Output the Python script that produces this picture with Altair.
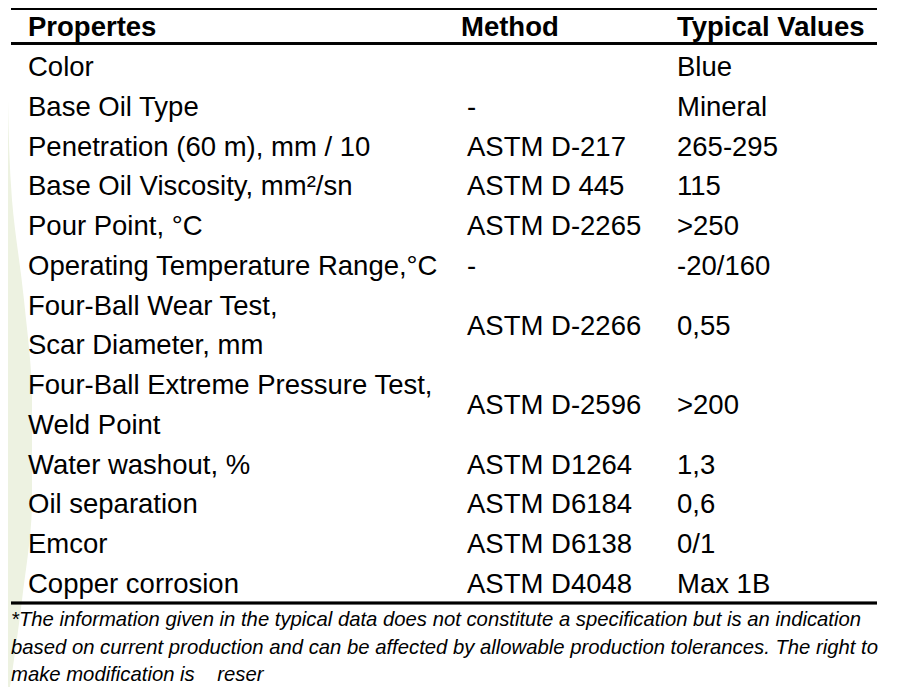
import altair as alt
import pandas as pd

W, H = 902, 679

header = ["Propertes", "Method", "Typical Values"]

properties = [
    "Color",
    "Base Oil Type",
    "Penetration (60 m), mm / 10",
    "Base Oil Viscosity, mm²/sn",
    "Pour Point, °C",
    "Operating Temperature Range,°C",
    "Four-Ball Wear Test,\nScar Diameter, mm",
    "Four-Ball Extreme Pressure Test,\nWeld Point",
    "Water washout, %",
    "Oil separation",
    "Emcor",
    "Copper corrosion",
]
methods = [
    "", "-", "ASTM D-217", "ASTM D 445", "ASTM D-2265", "-",
    "ASTM D-2266", "ASTM D-2596", "ASTM D1264", "ASTM D6184",
    "ASTM D6138", "ASTM D4048",
]
values = [
    "Blue", "Mineral", "265-295", "115", ">250", "-20/160",
    "0,55", ">200", "1,3", "0,6", "0/1", "Max 1B",
]
footnote = [
    "*The information given in the typical data does not constitute a specification but is an indication",
    "based on current production and can be affected by allowable production tolerances. The right to",
    "make modification is\u00a0\u00a0\u00a0\u00a0reser",
]

# decorative leaf shape on the left edge
leaf_y = [92, 192, 292, 392, 492, 592, 679]
leaf_x = [0, 4, 16, 24, 24, 14, 2]

# ---- build table records ----
recs = []
line = 1
for p, m, v in zip(properties, methods, values):
    parts = p.split("\n")
    for k, part in enumerate(parts):
        recs.append({"ci": 0, "text": part, "line": line + k})
    mid = line + (len(parts) - 1) / 2
    if m:
        recs.append({"ci": 1, "text": m, "line": mid})
    recs.append({"ci": 2, "text": v, "line": mid})
    line += len(parts)
body = pd.DataFrame(recs)
head = pd.DataFrame({"ci": [0, 1, 2], "text": header, "line": [0] * 3})
foot = pd.DataFrame({"text": footnote, "n": list(range(len(footnote)))})
leaf = pd.DataFrame({"y": leaf_y, "x": leaf_x})

FONT = "Liberation Sans"
yscale = alt.Scale(domain=[1, 14], range=[68, 585])

leaf_layer = alt.Chart(leaf).mark_area(
    orient="horizontal", interpolate="monotone", color="#edf2e1"
).encode(
    y=alt.Y("y:Q", scale=alt.Scale(domain=[0, H], range=[0, H]), axis=None),
    x=alt.X("x:Q", scale=alt.Scale(domain=[0, W], range=[0, W]), axis=None),
)

head_layer = alt.Chart(head).mark_text(
    align="left", baseline="alphabetic", font=FONT, fontSize=27.5,
    fontWeight="bold", color="black"
).encode(
    x=alt.X("ci:Q", scale=alt.Scale(domain=[0, 1, 2], range=[20, 453, 669]), axis=None),
    y=alt.Y("line:Q", scale=yscale, axis=None),
    text="text:N",
)

body_layer = alt.Chart(body).mark_text(
    align="left", baseline="alphabetic", font=FONT, fontSize=27.5, color="black"
).encode(
    x=alt.X("ci:Q", scale=alt.Scale(domain=[0, 1, 2], range=[20, 459, 669]), axis=None),
    y=alt.Y("line:Q", scale=yscale, axis=None),
    text="text:N",
)

foot_layer = alt.Chart(foot).mark_text(
    align="left", baseline="alphabetic", font=FONT,
    fontSize=20.3, fontStyle="italic", color="black"
).encode(
    x=alt.value(3),
    y=alt.Y("n:Q", scale=alt.Scale(domain=[0, 2], range=[618, 673]), axis=None),
    text="text:N",
)

rule_top = alt.Chart(head).mark_rule(color="black", strokeWidth=2).encode(
    x=alt.value(3), x2=alt.value(869), y=alt.value(1)
)
rule_head = alt.Chart(head).mark_rule(color="black", strokeWidth=2.5).encode(
    x=alt.value(3), x2=alt.value(869), y=alt.value(35.5)
)
rule_bot = alt.Chart(head).mark_rule(color="black", strokeWidth=2.5).encode(
    x=alt.value(3), x2=alt.value(869), y=alt.value(595)
)

chart = alt.layer(
    leaf_layer, rule_top, rule_head, rule_bot, head_layer, body_layer, foot_layer
).resolve_scale(x="independent", y="independent").properties(
    width=W, height=H, autosize=alt.AutoSizeParams(type="none"), padding=0,
    background="white"
).configure_view(stroke=None)

chart.save("out.html", embed_options={"renderer": "svg", "actions": False})
